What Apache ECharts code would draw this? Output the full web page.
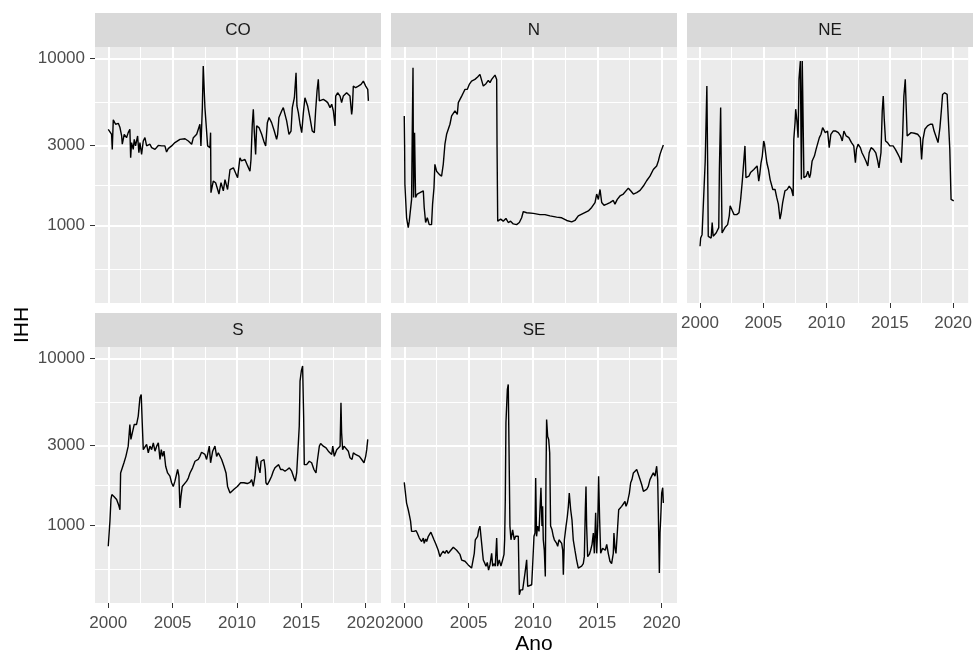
<!DOCTYPE html>
<html>
<head>
<meta charset="utf-8">
<script src="https://cdn.jsdelivr.net/npm/echarts@6/dist/echarts.min.js"></script>
<style>
  html, body { margin: 0; padding: 0; background: #fff; }
  #chart { width: 975px; height: 653px; }
</style>
</head>
<body>
<div id="chart"></div>
<script>
// IHH por região (2000-2020), eixo y em escala log10, uma faceta por região
const regioes = ['CO', 'N', 'NE', 'S', 'SE'];

const serieCO = [
  [2000.00,3760],[2000.13,3850],[2000.26,3510],[2000.31,2850],[2000.39,4280],[2000.57,4030],[2000.78,4080],[2000.91,3850],
  [2001.04,3430],[2001.09,3060],[2001.24,3510],[2001.42,3350],[2001.55,3590],[2001.68,3760],[2001.74,2540],[2001.81,3130],
  [2001.94,2850],[2002.02,3270],[2002.12,2990],[2002.28,3430],[2002.38,2720],[2002.46,3130],[2002.59,2660],[2002.72,3200],
  [2002.85,3350],[2002.98,2990],[2003.24,3060],[2003.37,2920],[2003.63,2850],[2003.89,3010],[2004.15,2990],[2004.40,2990],
  [2004.53,2750],[2004.66,2880],[2004.92,2990],[2005.18,3130],[2005.57,3270],[2005.96,3300],[2006.22,3200],[2006.35,3130],
  [2006.48,3060],[2006.61,3350],[2006.87,3510],[2007.00,3590],[2007.12,4030],[2007.20,2990],[2007.31,5070],[2007.38,9000],
  [2007.46,9200],[2007.51,5070],[2007.64,5070],[2007.72,2990],[2007.90,2920],[2007.95,3590],[2007.98,1570],[2008.16,1840],
  [2008.34,1800],[2008.50,1640],[2008.60,1540],[2008.76,1800],[2008.94,1610],[2009.07,1880],[2009.27,1640],[2009.46,2160],
  [2009.72,2210],[2009.84,2160],[2010.05,1930],[2010.23,2540],[2010.36,2430],[2010.62,2480],[2010.83,2270],[2011.01,2110],
  [2011.09,2480],[2011.19,4030],[2011.27,4960],[2011.35,3590],[2011.45,2660],[2011.53,3940],[2011.71,3850],[2011.92,3510],
  [2012.12,3130],[2012.23,2990],[2012.36,4120],[2012.49,4420],[2012.69,4120],[2012.90,3670],[2013.08,3270],[2013.16,3510],
  [2013.26,4420],[2013.47,4840],[2013.60,5070],[2013.73,4620],[2013.86,4220],[2014.04,3510],[2014.20,3670],[2014.30,5070],
  [2014.46,5810],[2014.59,8200],[2014.66,5190],[2014.77,4730],[2014.90,4030],[2015.03,3590],[2015.16,4730],[2015.28,5810],
  [2015.49,5190],[2015.67,4420],[2015.85,3670],[2016.01,3590],[2016.11,4840],[2016.22,6370],[2016.32,7480],[2016.40,5560],
  [2016.53,5680],[2016.71,5680],[2016.89,5560],[2017.05,5430],[2017.23,5070],[2017.36,5310],[2017.49,4840],[2017.62,3940],
  [2017.67,5940],[2017.82,6220],[2018.01,5940],[2018.13,5430],[2018.26,5940],[2018.52,6220],[2018.78,5940],[2018.91,4620],
  [2018.96,4960],[2019.04,6820],[2019.22,6670],[2019.43,6820],[2019.64,6980],[2019.82,7310],[2020.00,6820],[2020.16,6520],
  [2020.21,5560]
];

const serieN = [
  [2000.00,4520],[2000.03,2920],[2000.05,1760],[2000.18,1110],[2000.31,970],[2000.39,1060],[2000.49,1040],[2000.57,1430],
  [2000.62,3510],[2000.68,8790],[2000.72,1470],[2000.80,3590],[2000.88,1470],[2001.01,1540],[2001.22,1570],[2001.48,1610],
  [2001.55,1280],[2001.66,1040],[2001.79,1110],[2001.94,1010],[2002.12,1010],[2002.20,1340],[2002.31,1680],[2002.38,2320],
  [2002.51,2110],[2002.72,2020],[2002.90,1970],[2003.03,2320],[2003.16,3060],[2003.29,3510],[2003.42,3590],[2003.55,4030],
  [2003.68,4520],[2003.81,4620],[2003.94,4840],[2004.12,4620],[2004.20,5430],[2004.33,5680],[2004.46,5940],[2004.59,6220],
  [2004.72,6520],[2004.90,6520],[2005.05,6980],[2005.23,7310],[2005.49,7480],[2005.70,7730],[2005.88,8020],[2006.01,8090],
  [2006.14,6820],[2006.35,7050],[2006.53,7380],[2006.66,7150],[2006.79,7480],[2007.05,7940],[2007.18,7480],[2007.21,2920],
  [2007.26,1060],[2007.49,1090],[2007.69,1060],[2007.90,1100],[2008.08,1040],[2008.26,1060],[2008.47,1020],[2008.73,1010],
  [2008.94,1040],[2009.12,1110],[2009.25,1210],[2009.51,1190],[2010.03,1180],[2010.54,1160],[2010.93,1160],[2011.32,1140],
  [2011.84,1120],[2012.23,1110],[2012.62,1070],[2013.01,1050],[2013.26,1070],[2013.52,1140],[2013.91,1180],[2014.30,1220],
  [2014.56,1280],[2014.82,1370],[2014.95,1540],[2015.08,1430],[2015.21,1640],[2015.34,1370],[2015.52,1320],[2015.73,1340],
  [2015.98,1370],[2016.24,1410],[2016.37,1340],[2016.55,1430],[2016.76,1500],[2017.02,1540],[2017.41,1670],[2017.59,1610],
  [2017.80,1540],[2018.06,1570],[2018.32,1620],[2018.58,1720],[2018.83,1850],[2019.09,1970],[2019.35,2160],[2019.61,2270],
  [2019.74,2430],[2019.87,2660],[2020.00,2850],[2020.13,3030]
];

const serieNE = [
  [2000.00,750],[2000.05,840],[2000.16,880],[2000.31,880],[2000.41,2430],[2000.49,2430],[2000.54,6820],[2000.60,2430],
  [2000.65,860],[2000.75,880],[2000.88,840],[2000.96,1040],[2001.04,860],[2001.14,880],[2001.27,900],[2001.40,925],
  [2001.48,970],[2001.53,2160],[2001.58,2160],[2001.63,5070],[2001.68,2160],[2001.74,900],[2001.87,900],[2001.97,970],
  [2002.05,950],[2002.18,1010],[2002.31,1140],[2002.38,1310],[2002.56,1220],[2002.69,1160],[2002.90,1160],[2003.08,1190],
  [2003.21,1430],[2003.34,1840],[2003.47,1880],[2003.55,2990],[2003.63,1930],[2003.73,1880],[2003.86,1970],[2003.99,2070],
  [2004.12,2020],[2004.25,2160],[2004.38,2210],[2004.51,2270],[2004.64,1840],[2004.72,2020],[2004.82,2370],[2004.92,2600],
  [2005.03,3200],[2005.10,3060],[2005.18,2720],[2005.28,2370],[2005.41,2160],[2005.54,1880],[2005.75,1640],[2005.93,1640],
  [2006.06,1470],[2006.19,1340],[2006.32,1090],[2006.42,1190],[2006.53,1370],[2006.71,1610],[2006.89,1640],[2007.05,1720],
  [2007.23,1640],[2007.36,1500],[2007.41,3270],[2007.51,4120],[2007.56,4960],[2007.67,4120],[2007.75,3350],[2007.82,7480],
  [2007.93,9640],[2008.01,1880],[2008.08,9640],[2008.19,9640],[2008.21,1930],[2008.39,1970],[2008.52,2110],[2008.65,1930],
  [2008.73,2020],[2008.86,2430],[2009.04,2600],[2009.17,2850],[2009.30,2850],[2009.43,3350],[2009.56,3510],[2009.69,3850],
  [2009.90,3590],[2010.08,3670],[2010.21,2920],[2010.34,3510],[2010.52,3670],[2010.73,3670],[2010.93,3590],[2011.11,3430],
  [2011.24,3200],[2011.37,3670],[2011.55,3430],[2011.76,3350],[2011.97,3130],[2012.15,2990],[2012.28,2370],[2012.36,2850],
  [2012.49,3060],[2012.67,2920],[2012.80,2720],[2012.93,2600],[2013.11,2430],[2013.26,2270],[2013.37,2720],[2013.52,2920],
  [2013.70,2850],[2013.89,2720],[2014.04,2430],[2014.14,2210],[2014.30,2720],[2014.40,4840],[2014.48,5940],[2014.56,4320],
  [2014.66,3200],[2014.82,3130],[2015.00,2990],[2015.13,2920],[2015.26,2990],[2015.44,2850],[2015.65,2660],[2015.78,2540],
  [2015.91,2370],[2016.01,3430],[2016.11,5940],[2016.22,7480],[2016.30,4960],[2016.37,3430],[2016.48,3510],[2016.68,3590],
  [2016.94,3560],[2017.20,3510],[2017.41,3350],[2017.51,2480],[2017.62,3270],[2017.77,3760],[2017.98,3940],[2018.19,4030],
  [2018.37,4030],[2018.50,3670],[2018.63,3590],[2018.81,3130],[2018.96,3850],[2019.07,4840],[2019.17,6080],[2019.33,6220],
  [2019.53,6080],[2019.66,6080],[2019.74,2850],[2019.84,1430],[2019.92,1400],[2020.05,1400]
];

const serieS = [
  [2000.00,750],[2000.08,770],[2000.13,1060],[2000.21,1430],[2000.28,1530],[2000.44,1490],[2000.65,1430],[2000.80,1330],
  [2000.91,1240],[2000.96,2060],[2001.06,2110],[2001.22,2370],[2001.37,2590],[2001.55,2980],[2001.68,4020],[2001.76,3270],
  [2001.87,3580],[2002.02,4020],[2002.20,4020],[2002.33,4510],[2002.46,5810],[2002.56,6080],[2002.64,4110],[2002.72,2840],
  [2002.85,2780],[2002.98,3050],[2003.11,2720],[2003.24,2980],[2003.37,2840],[2003.50,3120],[2003.63,2780],[2003.76,2980],
  [2003.89,3120],[2004.02,2480],[2004.12,2840],[2004.22,2590],[2004.33,2780],[2004.46,2260],[2004.61,2060],[2004.79,1970],
  [2004.92,1800],[2005.05,1710],[2005.18,1840],[2005.39,2160],[2005.49,1970],[2005.57,1270],[2005.65,1490],[2005.75,1710],
  [2005.88,1750],[2006.09,1840],[2006.22,1920],[2006.35,2060],[2006.55,2210],[2006.74,2420],[2006.99,2480],[2007.12,2590],
  [2007.25,2740],[2007.38,2780],[2007.51,2660],[2007.64,2480],[2007.85,2980],[2007.95,2370],[2008.11,2780],[2008.29,2980],
  [2008.42,2590],[2008.55,2720],[2008.68,2660],[2008.81,2480],[2008.99,2260],[2009.15,2060],[2009.27,1710],[2009.46,1560],
  [2009.59,1600],[2009.79,1650],[2010.03,1710],[2010.28,1800],[2010.54,1800],[2010.80,1780],[2011.01,1810],[2011.14,1880],
  [2011.27,1710],[2011.40,1970],[2011.53,2590],[2011.66,2260],[2011.79,2060],[2011.87,2420],[2012.00,2370],[2012.10,2480],
  [2012.20,2160],[2012.25,1800],[2012.36,1750],[2012.51,1840],[2012.69,1970],[2012.82,2110],[2012.95,2210],[2013.08,2260],
  [2013.24,2310],[2013.39,2160],[2013.55,2160],[2013.73,2110],[2013.91,2160],[2014.07,2210],[2014.25,2110],[2014.43,1920],
  [2014.53,1840],[2014.64,2060],[2014.72,2660],[2014.84,3930],[2014.90,7310],[2015.00,8400],[2015.10,9000],[2015.18,4510],
  [2015.23,2310],[2015.41,2310],[2015.62,2420],[2015.80,2370],[2015.98,2160],[2016.14,2060],[2016.24,2420],[2016.40,2980],
  [2016.50,3090],[2016.71,2980],[2016.92,2910],[2017.10,2780],[2017.23,2840],[2017.36,2660],[2017.44,2980],[2017.56,2590],
  [2017.75,2840],[2017.88,2840],[2018.01,2980],[2018.08,5420],[2018.13,3580],[2018.21,2840],[2018.32,2980],[2018.47,2910],
  [2018.65,2780],[2018.78,2540],[2018.94,2480],[2019.04,2720],[2019.20,2660],[2019.35,2720],[2019.51,2590],[2019.69,2480],
  [2019.87,2370],[2020.00,2590],[2020.08,2840],[2020.16,3270]
];

const serieSE = [
  [2000.00,1810],[2000.08,1800],[2000.18,1360],[2000.31,1240],[2000.39,1160],[2000.49,1060],[2000.57,920],[2000.65,940],
  [2000.75,920],[2000.91,930],[2001.01,900],[2001.17,840],[2001.27,860],[2001.35,800],[2001.48,840],[2001.55,780],
  [2001.66,830],[2001.74,800],[2001.87,860],[2001.99,860],[2002.07,910],[2002.20,920],[2002.31,820],[2002.46,770],
  [2002.64,710],[2002.77,650],[2002.90,680],[2003.03,700],[2003.16,680],[2003.29,710],[2003.42,680],[2003.55,700],
  [2003.68,710],[2003.81,740],[2003.94,720],[2004.07,710],[2004.20,720],[2004.33,670],[2004.46,620],[2004.59,630],
  [2004.72,610],[2004.84,600],[2004.97,580],[2005.10,570],[2005.23,555],[2005.36,540],[2005.44,680],[2005.52,820],
  [2005.62,820],[2005.70,860],[2005.78,940],[2005.88,990],[2006.01,1010],[2006.14,620],[2006.27,590],[2006.35,570],
  [2006.45,600],[2006.55,540],[2006.66,580],[2006.79,680],[2006.87,570],[2006.99,590],[2007.07,570],[2007.18,840],
  [2007.25,570],[2007.38,620],[2007.51,570],[2007.64,620],[2007.75,670],[2007.80,820],[2007.85,1430],[2007.90,4110],
  [2008.01,6520],[2008.08,6980],[2008.16,7150],[2008.21,990],[2008.29,820],[2008.42,940],[2008.55,820],[2008.65,860],
  [2008.78,840],[2008.86,860],[2008.94,384],[2009.04,411],[2009.20,411],[2009.30,421],[2009.38,518],[2009.51,622],
  [2009.59,431],[2009.72,431],[2009.90,441],[2009.97,568],[2010.08,860],[2010.16,900],[2010.21,1920],[2010.28,860],
  [2010.36,990],[2010.47,920],[2010.54,940],[2010.62,1680],[2010.70,990],[2010.75,1300],[2010.80,820],[2010.88,710],
  [2010.96,494],[2011.01,1880],[2011.06,4300],[2011.14,3420],[2011.22,3270],[2011.30,2720],[2011.37,990],[2011.48,940],
  [2011.58,860],[2011.66,820],[2011.74,820],[2011.84,780],[2011.92,750],[2012.02,820],[2012.10,800],[2012.23,780],
  [2012.31,710],[2012.36,506],[2012.44,820],[2012.57,990],[2012.67,1130],[2012.75,1300],[2012.82,1560],[2012.93,1240],
  [2013.03,1080],[2013.13,820],[2013.26,710],[2013.39,620],[2013.52,555],[2013.65,540],[2013.78,570],[2013.91,590],
  [2013.99,650],[2014.07,1270],[2014.12,1710],[2014.17,990],[2014.25,650],[2014.38,670],[2014.48,710],[2014.59,770],
  [2014.69,900],[2014.77,680],[2014.87,1190],[2014.95,680],[2015.03,990],[2015.10,1970],[2015.18,1080],[2015.26,680],
  [2015.41,730],[2015.52,750],[2015.62,710],[2015.73,770],[2015.85,680],[2015.98,610],[2016.11,590],[2016.24,680],
  [2016.29,900],[2016.37,730],[2016.45,680],[2016.55,900],[2016.66,1240],[2016.76,1270],[2016.89,1300],[2017.02,1330],
  [2017.15,1390],[2017.23,1300],[2017.33,1360],[2017.49,1560],[2017.59,1800],[2017.69,1880],[2017.80,2060],[2017.93,2010],
  [2018.06,2160],[2018.19,2210],[2018.32,1880],[2018.45,1750],[2018.58,1600],[2018.71,1560],[2018.83,1640],[2018.96,1710],
  [2019.09,1880],[2019.22,1970],[2019.35,2060],[2019.48,1970],[2019.61,2260],[2019.69,1880],[2019.74,1190],[2019.82,518],
  [2019.87,900],[2019.92,1080],[2020.00,1560],[2020.08,1680],[2020.13,1360]
];

const anosTicks = [2000, 2005, 2010, 2015, 2020];
const anosMinor = [2002.5, 2007.5, 2012.5, 2017.5];
const ihhTicks = [1000, 3000, 10000];
const ihhMinor = [548, 1732, 5477];

const series = { CO: serieCO, N: serieN, NE: serieNE, S: serieS, SE: serieSE };

// posição de cada faceta (px)
const paineis = [
  { left: 95,  top: 47,  xLab: false, yLab: true },
  { left: 391, top: 47,  xLab: false, yLab: false },
  { left: 687, top: 47,  xLab: true,  yLab: false },
  { left: 95,  top: 347, xLab: true,  yLab: true },
  { left: 391, top: 347, xLab: true,  yLab: false }
];
const W = 286, H = 256, STRIP = 34;
const X_MIN = 1998.97, X_MAX = 2021.19;
const Y_MIN = 343, Y_MAX = 11690;
const FONT = '"Liberation Sans", Arial, sans-serif';

const grid = [], xAxis = [], yAxis = [], seriesOpt = [], graphic = [];

paineis.forEach((p, i) => {
  grid.push({
    left: p.left, top: p.top, width: W, height: H,
    show: true, backgroundColor: '#EBEBEB', borderWidth: 0
  });
  // linhas secundárias (mais finas) primeiro
  xAxis.push({
    type: 'value', gridIndex: i, position: 'bottom', min: X_MIN, max: X_MAX,
    axisLine: { show: false, onZero: false },
    axisTick: { show: false, customValues: anosMinor },
    axisLabel: { show: false },
    splitLine: { show: true, lineStyle: { color: '#FFFFFF', width: 1 } }
  });
  xAxis.push({
    type: 'value', gridIndex: i, position: 'bottom', min: X_MIN, max: X_MAX,
    axisLine: { show: false, onZero: false },
    axisTick: { show: p.xLab, customValues: anosTicks, length: 5, lineStyle: { color: '#333333', width: 1 } },
    axisLabel: {
      show: p.xLab, customValues: anosTicks, color: '#4D4D4D', fontSize: 17, fontFamily: FONT,
      margin: 12, formatter: v => String(v)
    },
    splitLine: { show: true, lineStyle: { color: '#FFFFFF', width: 2 } }
  });
  yAxis.push({
    type: 'log', logBase: 10, gridIndex: i, position: 'left', min: Y_MIN, max: Y_MAX,
    axisLine: { show: false, onZero: false },
    axisTick: { show: false, customValues: ihhMinor },
    axisLabel: { show: false },
    splitLine: { show: true, lineStyle: { color: '#FFFFFF', width: 1 } }
  });
  yAxis.push({
    type: 'log', logBase: 10, gridIndex: i, position: 'left', min: Y_MIN, max: Y_MAX,
    axisLine: { show: false, onZero: false },
    axisTick: { show: p.yLab, customValues: ihhTicks, length: 5, lineStyle: { color: '#333333', width: 1 } },
    axisLabel: {
      show: p.yLab, customValues: ihhTicks, color: '#4D4D4D', fontSize: 17, fontFamily: FONT,
      margin: 10, formatter: v => String(Math.round(v))
    },
    splitLine: { show: true, lineStyle: { color: '#FFFFFF', width: 2 } }
  });
  seriesOpt.push({
    name: regioes[i], type: 'line', xAxisIndex: 2 * i + 1, yAxisIndex: 2 * i + 1,
    data: series[regioes[i]], showSymbol: false, symbol: 'none', silent: true,
    lineStyle: { color: '#000000', width: 1.4 }
  });
  // faixa com o nome da região
  graphic.push({
    type: 'rect', shape: { x: p.left, y: p.top - STRIP, width: W, height: STRIP },
    style: { fill: '#D9D9D9' }, silent: true
  });
  graphic.push({
    type: 'text', x: p.left + W / 2, y: p.top - STRIP / 2, silent: true,
    style: {
      text: regioes[i], fill: '#1A1A1A', font: '17px ' + FONT,
      align: 'center', verticalAlign: 'middle', textAlign: 'center', textVerticalAlign: 'middle'
    }
  });
});

// títulos dos eixos
graphic.push({
  type: 'text', x: 534, y: 644, silent: true,
  style: { text: 'Ano', fill: '#000000', font: '21px ' + FONT, align: 'center', verticalAlign: 'middle', textAlign: 'center', textVerticalAlign: 'middle' }
});
graphic.push({
  type: 'text', x: 22, y: 325, rotation: Math.PI / 2, silent: true,
  style: { text: 'IHH', fill: '#000000', font: '21px ' + FONT, align: 'center', verticalAlign: 'middle', textAlign: 'center', textVerticalAlign: 'middle' }
});

const chart = echarts.init(document.getElementById('chart'));
chart.setOption({
  backgroundColor: '#FFFFFF',
  animation: false,
  grid: grid,
  xAxis: xAxis,
  yAxis: yAxis,
  series: seriesOpt,
  graphic: graphic
});
</script>
</body>
</html>
